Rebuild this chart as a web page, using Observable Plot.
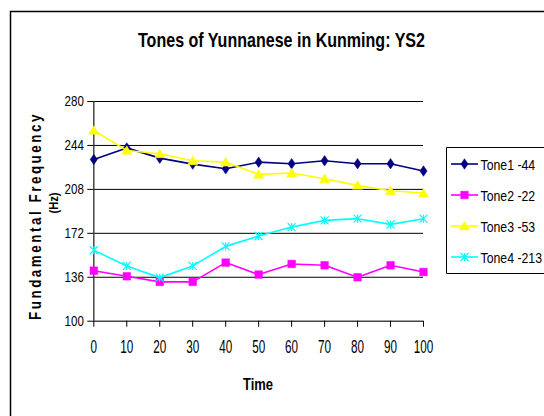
<!DOCTYPE html>
<html>
<head>
<meta charset="utf-8">
<script src="https://cdn.jsdelivr.net/npm/d3@7"></script>
<script src="https://cdn.jsdelivr.net/npm/@observablehq/plot@0.6"></script>
<style>
  html, body { margin: 0; padding: 0; background: #fff; }
  #chart svg { display: block; }
</style>
</head>
<body>
<div id="chart"></div>
<script>
const times = [0, 10, 20, 30, 40, 50, 60, 70, 80, 90, 100];
const tone1 = [232.5, 242, 233.6, 228.7, 224.9, 230.3, 229, 231.4, 229, 229, 223];
const tone2 = [141.4, 136.8, 132.2, 132.2, 148, 138.2, 146.9, 145.8, 136, 145.8, 140.3];
const tone3 = [256.3, 239.9, 237.2, 231.4, 230.3, 220.3, 221.4, 216.7, 211.3, 206.9, 205];
const tone4 = [158.1, 145.3, 135.7, 145.3, 161.3, 169.8, 177.1, 182.6, 184, 179.3, 184];
const seriesNames = ["Tone1 -44", "Tone2 -22", "Tone3 -53", "Tone4 -213"];
const seriesColors = ["#000080", "#FF00FF", "#FFFF00", "#00FFFF"];
const yTicks = [100, 136, 172, 208, 244, 280];
const xTicks = [0, 10, 20, 30, 40, 50, 60, 70, 80, 90, 100];
const titleText = "Tones of Yunnanese in Kunming: YS2";
const xLabel = "Time";
const yLabel1 = "Fundamental Frequency";
const yLabel2 = "(Hz)";

const sans = "'Liberation Sans', Arial, sans-serif";

// custom marker symbols (r = half-size)
const rad = s => Math.sqrt(s / Math.PI);
const symDiamond = { draw(c, s) { const r = rad(s); c.moveTo(0, -r * 1.25); c.lineTo(r * 0.85, 0); c.lineTo(0, r * 1.25); c.lineTo(-r * 0.85, 0); c.closePath(); } };
const symSquare = { draw(c, s) { const r = rad(s); c.moveTo(-r, -r); c.lineTo(r, -r); c.lineTo(r, r); c.lineTo(-r, r); c.closePath(); } };
const symTriangle = { draw(c, s) { const r = rad(s); c.moveTo(0, -r); c.lineTo(r * 1.1, r * 0.85); c.lineTo(-r * 1.1, r * 0.85); c.closePath(); } };
const symStar = { draw(c, s) { const r = rad(s); c.moveTo(-r, -r); c.lineTo(r, r); c.moveTo(-r, r); c.lineTo(r, -r); c.moveTo(0, -r); c.lineTo(0, r); } };
const symbols = [symDiamond, symSquare, symTriangle, symStar];
const symR = [4.2, 3.8, 4.6, 4];

const seriesValues = [tone1, tone2, tone3, tone4];
const data = seriesValues.flatMap((vals, i) => vals.map((v, j) => ({ series: seriesNames[i], idx: i, time: times[j], f0: v })));

const marks = [
  Plot.ruleY(yTicks.slice(1), { stroke: "#000", strokeWidth: 1 }),
  Plot.ruleY([100], { stroke: "#444", strokeWidth: 1.5 }),
  Plot.ruleX([0], { y1: 100, y2: 280, stroke: "#444", strokeWidth: 1.5 }),
  Plot.axisY({ ticks: yTicks, tickSize: 6, tickPadding: 4, fontSize: 15, fontFamily: sans, fill: "#000" }),
  Plot.axisX({ ticks: xTicks, tickSize: 6, tickPadding: 13, fontSize: 18, fontFamily: sans, fill: "#000" })
];
seriesNames.forEach((name, i) => {
  const d = data.filter(r => r.idx === i);
  marks.push(Plot.line(d, { x: "time", y: "f0", stroke: seriesColors[i], strokeWidth: 1.6 }));
  if (i === 3) {
    marks.push(Plot.dot(d, { x: "time", y: "f0", symbol: symbols[i], r: symR[i], stroke: seriesColors[i], fill: "none", strokeWidth: 1.2 }));
  } else {
    marks.push(Plot.dot(d, { x: "time", y: "f0", symbol: symbols[i], r: symR[i], fill: seriesColors[i], stroke: seriesColors[i], strokeWidth: 0.5 }));
  }
});

const svgEl = Plot.plot({
  width: 544,
  height: 416,
  marginLeft: 93.3,
  marginRight: 121,
  marginTop: 101,
  marginBottom: 95.3,
  x: { domain: [0, 100], label: null },
  y: { domain: [100, 280], label: null },
  style: { background: "#fff", fontFamily: sans, color: "#000" },
  marks
});
document.getElementById("chart").appendChild(svgEl);

function squeeze(sel, factor) {
  sel.each(function () {
    const L = this.getComputedTextLength();
    this.setAttribute("textLength", (L * factor).toFixed(2));
    this.setAttribute("lengthAdjust", "spacingAndGlyphs");
  });
}

const svg = d3.select(svgEl);
squeeze(svg.selectAll('g[aria-label="y-axis tick label"] text'), 0.77);
squeeze(svg.selectAll('g[aria-label="x-axis tick label"] text'), 0.65);

// outer chart frame
svg.append("path").attr("d", "M10.5,600V11.5H600")
  .attr("fill", "none").attr("stroke", "#000").attr("stroke-width", 1.5);
// title
svg.append("text").attr("x", 281.5).attr("y", 46.5).attr("text-anchor", "middle")
  .attr("textLength", 287).attr("lengthAdjust", "spacingAndGlyphs")
  .style("font-family", sans).style("font-weight", "bold").style("font-size", "21px").text(titleText);
// x label
svg.append("text").attr("x", 258).attr("y", 390).attr("text-anchor", "middle")
  .attr("textLength", 30).attr("lengthAdjust", "spacingAndGlyphs")
  .style("font-family", sans).style("font-weight", "bold").style("font-size", "16.5px").text(xLabel);
// y label (two lines)
svg.append("text").attr("transform", "translate(40.5,216) rotate(-90)").attr("text-anchor", "middle")
  .attr("textLength", 208).attr("lengthAdjust", "spacingAndGlyphs")
  .style("font-family", sans).style("font-weight", "bold").style("font-size", "16px").style("letter-spacing", "3px").text(yLabel1);
svg.append("text").attr("transform", "translate(57.5,203) rotate(-90)").attr("text-anchor", "middle")
  .attr("textLength", 21).attr("lengthAdjust", "spacingAndGlyphs")
  .style("font-family", sans).style("font-weight", "bold").style("font-size", "13.5px").text(yLabel2);

// legend
const lg = svg.append("g");
lg.append("path").attr("d", "M600,147.5H446.5V273.5H600")
  .attr("fill", "#fff").attr("stroke", "#000").attr("stroke-width", 1);
seriesNames.forEach((name, i) => {
  const cy = 164 + i * 31;
  lg.append("line").attr("x1", 451).attr("x2", 478).attr("y1", cy).attr("y2", cy)
    .attr("stroke", seriesColors[i]).attr("stroke-width", 1.6);
  const p = d3.symbol(symbols[i], symR[i] * symR[i] * Math.PI)();
  const m = lg.append("path").attr("d", p).attr("transform", `translate(464.5,${cy})`);
  if (i === 3) m.attr("fill", "none").attr("stroke", seriesColors[i]).attr("stroke-width", 1.2);
  else m.attr("fill", seriesColors[i]).attr("stroke", seriesColors[i]).attr("stroke-width", 0.5);
  lg.append("g").attr("transform", `translate(480.5,${cy + 5.5}) scale(0.82,1)`)
    .append("text").attr("x", 0).attr("y", 0).attr("text-anchor", "start")
    .style("font-family", sans).style("font-size", "15px").text(name);
});
</script>
</body>
</html>
